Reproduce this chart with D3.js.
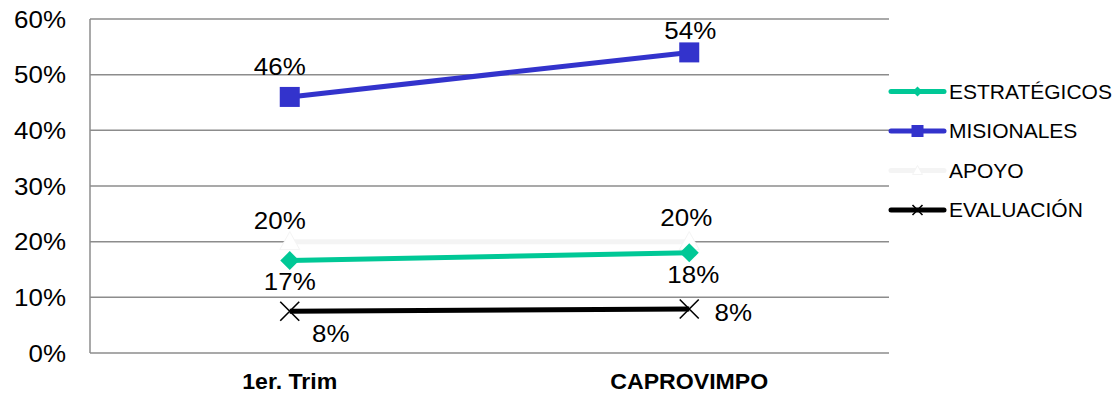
<!DOCTYPE html>
<html><head><meta charset="utf-8">
<script src="https://cdn.jsdelivr.net/npm/d3@7"></script>
<style>body{margin:0;background:#fff}svg{display:block}text{font-family:"Liberation Sans",Arial,sans-serif}</style>
</head><body><svg id="c" width="1116" height="394"></svg>
<script>
const categories = ["1er. Trim", "CAPROVIMPO"];
const seriesNames = ["ESTRATÉGICOS", "MISIONALES", "APOYO", "EVALUACIÓN"];
const estrategicos = [0.166, 0.18];
const misionales = [0.46, 0.54];
const apoyo = [0.20, 0.20];
const evaluacion = [0.075, 0.079];
const yTicks = [0, 0.1, 0.2, 0.3, 0.4, 0.5, 0.6];

const series = [
  {name: seriesNames[0], values: estrategicos, color: "#00c896", marker: "diamond", labels: [[0, 29], [4, 30]]},
  {name: seriesNames[1], values: misionales, color: "#3333cc", marker: "square", labels: [[-10, -22], [1, -13]]},
  {name: seriesNames[2], values: apoyo, color: "#f4f4f4", marker: "triangle", labels: [[-10, -13], [-3, -16]]},
  {name: seriesNames[3], values: evaluacion, color: "#000000", marker: "x", labels: [[41, 31], [44, 12]]}
];

const svg = d3.select("#c");
const L = 90, R = 889, T = 19, B = 353;
const x = d3.scaleBand().domain(categories).range([L, R]);
const y = d3.scaleLinear().domain([0, 0.6]).range([B, T]);
const fmt = d3.format(".0%");

function stretch(sel, f) {
  sel.each(function() { const w = this.getComputedTextLength(); this.setAttribute("textLength", w * f); this.setAttribute("lengthAdjust", "spacingAndGlyphs"); });
}

// gridlines
svg.append("g").selectAll("line").data(yTicks).join("line")
  .attr("x1", L).attr("x2", R).attr("y1", d => y(d)).attr("y2", d => y(d))
  .attr("stroke", "#8c8c8c").attr("stroke-width", 1.5);
svg.append("line").attr("x1", L).attr("x2", L).attr("y1", T).attr("y2", B)
  .attr("stroke", "#8c8c8c").attr("stroke-width", 1.5);

// y tick labels
svg.append("g").selectAll("text").data(yTicks).join("text")
  .attr("x", 66).attr("y", d => y(d) + 8.5).attr("text-anchor", "end")
  .attr("font-size", 24).attr("fill", "#000").text(d => fmt(d)).call(stretch, 1.08);

// x labels
svg.append("g").selectAll("text").data(categories).join("text")
  .attr("x", d => x(d) + x.bandwidth() / 2).attr("y", 389).attr("text-anchor", "middle")
  .attr("font-size", 22).attr("font-weight", "bold").text(d => d).call(stretch, 1.05);

const cx = d => x(d) + x.bandwidth() / 2;
const line = d3.line().x((d, i) => cx(categories[i])).y(d => y(d));

function marker(g, type, px, py, color, s) {
  if (type === "square") g.append("rect").attr("x", px - s).attr("y", py - s).attr("width", 2 * s).attr("height", 2 * s).attr("fill", color);
  else if (type === "diamond") g.append("path").attr("d", `M${px},${py - s}L${px + s},${py}L${px},${py + s}L${px - s},${py}Z`).attr("fill", color);
  else if (type === "triangle") g.append("path").attr("d", `M${px},${py - s}L${px + s},${py + s * 0.8}L${px - s},${py + s * 0.8}Z`).attr("fill", "#fff").attr("stroke", color).attr("stroke-width", 1);
  else if (type === "x") g.append("path").attr("d", `M${px - s},${py - s}L${px + s},${py + s}M${px + s},${py - s}L${px - s},${py + s}`).attr("stroke", color).attr("stroke-width", 1.6).attr("fill", "none");
}

const sizes = {square: 10, diamond: 9.5, triangle: 10, x: 9.5};
const order = [2, 3, 0, 1];
order.forEach(k => {
  const s = series[k];
  const g = svg.append("g");
  g.append("path").datum(s.values).attr("d", line).attr("fill", "none")
    .attr("stroke", s.color).attr("stroke-width", 5);
  s.values.forEach((v, i) => marker(g, s.marker, cx(categories[i]), y(v), s.color, sizes[s.marker]));
});
series.forEach(s => {
  s.values.forEach((v, i) => {
    svg.append("text").attr("x", cx(categories[i]) + s.labels[i][0]).attr("y", y(v) + s.labels[i][1])
      .attr("text-anchor", "middle").attr("font-size", 24).attr("fill", "#000").text(fmt(v)).call(stretch, 1.08);
  });
});

// legend
const lg = svg.append("g");
series.forEach((s, i) => {
  const ly = 91.5 + i * 39.5;
  lg.append("line").attr("x1", 891).attr("x2", 944).attr("y1", ly).attr("y2", ly)
    .attr("stroke", s.color).attr("stroke-width", 5).attr("stroke-linecap", "round");
  marker(lg, s.marker, 917.5, ly, s.color, s.marker === "square" ? 6 : 5);
  lg.append("text").attr("x", 949).attr("y", ly + 7.2).attr("font-size", 21).attr("fill", "#000").text(s.name).call(stretch, 1.0);
});
</script></body></html>
